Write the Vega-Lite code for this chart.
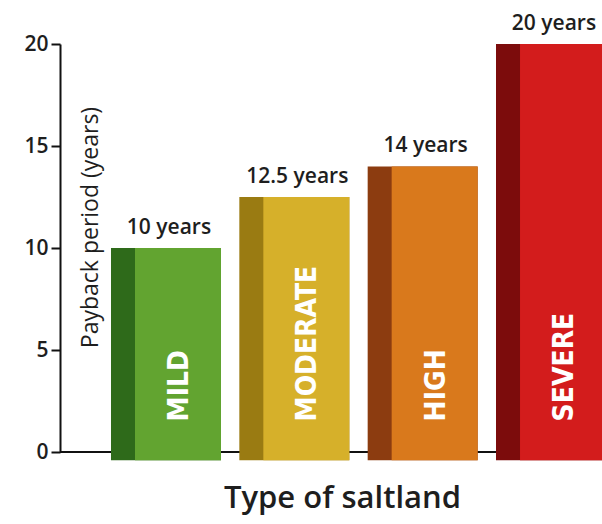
{
  "$schema": "https://vega.github.io/schema/vega-lite/v6.json",
  "width": 542,
  "height": 408,
  "autosize": {"type": "none"},
  "padding": {"left": 60, "top": 44, "right": 0, "bottom": 72},
  "background": "#ffffff",
  "config": {"view": {"stroke": null}, "font": "Open Sans"},
  "data": {"values": [
    {"type": "MILD", "years": 10, "label": "10 years"},
    {"type": "MODERATE", "years": 12.5, "label": "12.5 years"},
    {"type": "HIGH", "years": 14, "label": "14 years"},
    {"type": "SEVERE", "years": 20, "label": "20 years"}
  ]},
  "encoding": {
    "x": {
      "field": "type", "type": "nominal", "sort": null,
      "scale": {"range": [75, 546], "paddingInner": 0.33, "paddingOuter": 0},
      "axis": {"domain": false, "ticks": false, "labels": false, "title": "Type of saltland",
        "titleFontSize": 31, "titleFontWeight": 600, "titleColor": "#1e1e1e", "titleFont": "Open Sans",
        "titleY": 46, "titleX": 282, "titleBaseline": "middle"}
    },
    "y": {
      "field": "years", "type": "quantitative",
      "scale": {"domain": [0, 20]},
      "axis": {"values": [0, 5, 10, 15, 20], "grid": false, "domainColor": "#111", "domainWidth": 2,
        "tickColor": "#111", "tickWidth": 2, "tickSize": 9, "labelFontSize": 21, "labelFontWeight": 600, "labelColor": "#1e1e1e",
        "labelPadding": 3, "labelFont": "Open Sans",
        "title": "Payback period (years)", "titleFontSize": 23, "titleFontWeight": "normal", "titleColor": "#1e1e1e",
        "titleX": 30, "titleY": 183, "titleAngle": 270, "titleAlign": "center", "titleBaseline": "middle"}
    }
  },
  "layer": [
    {"mark": {"type": "rule", "color": "#111", "strokeWidth": 2}, "encoding": {"y": {"datum": 0}, "x": null}},
    {
      "mark": {"type": "bar", "width": 110, "xOffset": -12},
      "encoding": {"y2": {"datum": -0.4}, "color": {"field": "type", "type": "nominal", "sort": null, "legend": null,
        "scale": {"domain": ["MILD", "MODERATE", "HIGH", "SEVERE"], "range": ["#2e6a1a", "#9a7b12", "#8c3c10", "#7c0c0c"]}}}
    },
    {
      "mark": {"type": "bar"},
      "encoding": {"y2": {"datum": -0.4}, "fill": {"field": "type", "type": "nominal", "sort": null, "legend": null,
        "scale": {"domain": ["MILD", "MODERATE", "HIGH", "SEVERE"], "range": ["#62a430", "#d6b02a", "#d9791c", "#d31c1c"]}}}
    },
    {
      "mark": {"type": "text", "baseline": "bottom", "dy": -10, "xOffset": -9, "fontSize": 21, "fontWeight": 600, "color": "#1e1e1e", "font": "Open Sans"},
      "encoding": {"text": {"field": "label"}}
    },
    {
      "mark": {"type": "text", "angle": 270, "align": "left", "baseline": "middle", "fontSize": 28, "fontWeight": "bold",
        "font": "DejaVu Sans Condensed, Liberation Sans Narrow, DejaVu Sans", "color": "#ffffff", "xOffset": 2},
      "encoding": {"text": {"field": "type"}, "y": {"datum": 1.5}}
    }
  ],
  "resolve": {"scale": {"color": "independent", "fill": "independent"}}
}
